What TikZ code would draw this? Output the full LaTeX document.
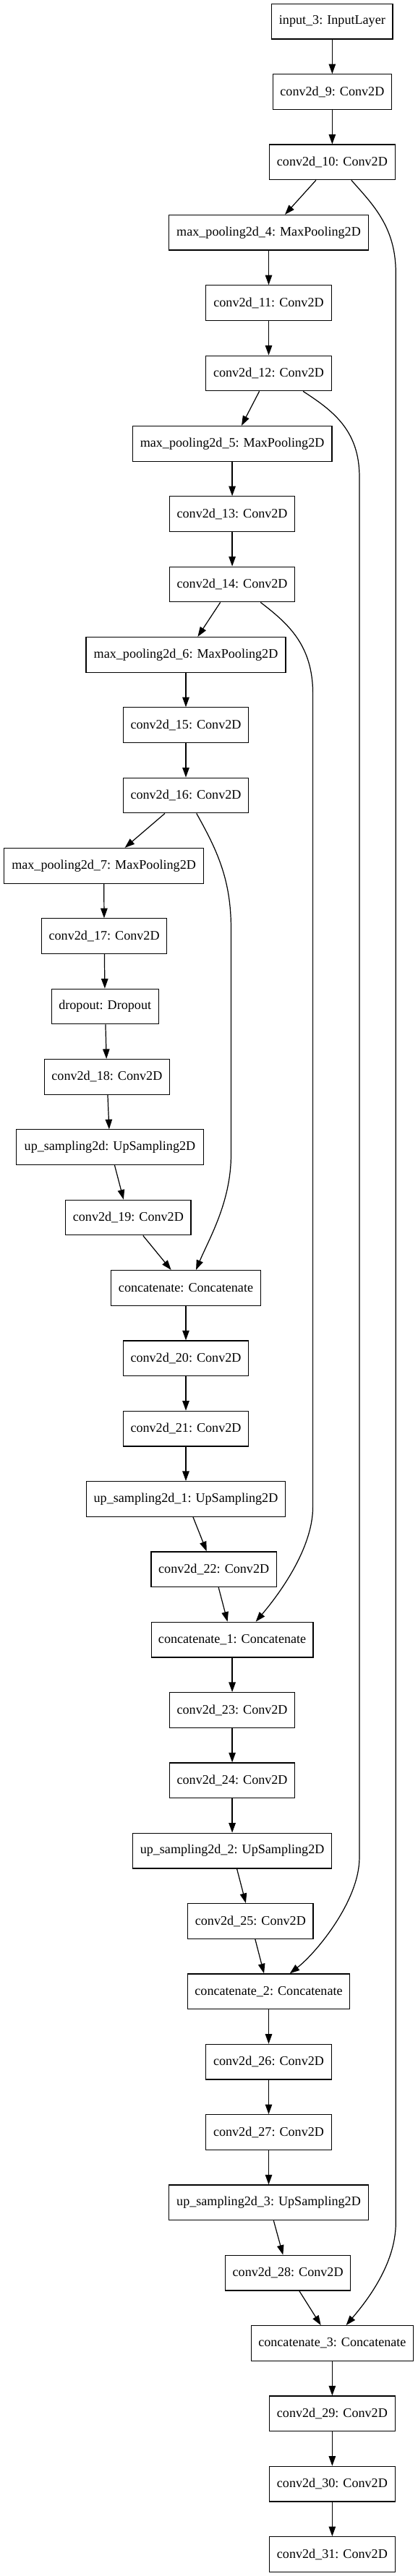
\documentclass[tikz,border=0pt]{standalone}
\usepackage{fontspec}
\setmainfont{Liberation Serif}
\usetikzlibrary{arrows.meta}
\begin{document}
\begin{tikzpicture}[x=1pt,y=-1pt,
  lay/.style={draw=black, line width=0.9pt, minimum height=36pt, inner sep=0pt,
    font=\fontsize{13.4}{16}\selectfont},
  cw/.style={lay, minimum width=128.3pt},
  mpw/.style={lay, minimum width=204.1pt},
  upw/.style={lay, minimum width=203.8pt},
  catw/.style={lay, minimum width=165.5pt},
  edge/.style={draw=black, line width=0.9pt, -{Triangle[length=10pt,width=7pt]}}]
\useasboundingbox (0,0) rectangle (426.8,2636.2);
\node[lay, minimum width=123.6pt] (in3) at (339.8,22) {input\_3: InputLayer};
\node[lay, minimum width=121.5pt] (c9) at (339.8,94) {conv2d\_9: Conv2D};
\node[cw] (c10) at (339.8,166) {conv2d\_10: Conv2D};
\node[mpw] (mp4) at (274.8,238) {max\_pooling2d\_4: MaxPooling2D};
\node[cw] (c11) at (274.8,310) {conv2d\_11: Conv2D};
\node[cw] (c12) at (274.8,382) {conv2d\_12: Conv2D};
\node[mpw] (mp5) at (237.5,454) {max\_pooling2d\_5: MaxPooling2D};
\node[cw] (c13) at (237.5,526) {conv2d\_13: Conv2D};
\node[cw] (c14) at (237.5,598) {conv2d\_14: Conv2D};
\node[mpw] (mp6) at (190.1,670) {max\_pooling2d\_6: MaxPooling2D};
\node[cw] (c15) at (190.1,742) {conv2d\_15: Conv2D};
\node[cw] (c16) at (190.1,814) {conv2d\_16: Conv2D};
\node[mpw] (mp7) at (106.2,886) {max\_pooling2d\_7: MaxPooling2D};
\node[cw] (c17) at (106.6,958) {conv2d\_17: Conv2D};
\node[lay, minimum width=109.5pt] (dr) at (107.4,1030) {dropout: Dropout};
\node[cw] (c18) at (109.4,1102) {conv2d\_18: Conv2D};
\node[lay, minimum width=191.3pt] (up0) at (112.4,1174) {up\_sampling2d: UpSampling2D};
\node[cw] (c19) at (131.2,1246) {conv2d\_19: Conv2D};
\node[lay, minimum width=152.7pt] (cat0) at (190.1,1318) {concatenate: Concatenate};
\node[cw] (c20) at (190.1,1390) {conv2d\_20: Conv2D};
\node[cw] (c21) at (190.1,1462) {conv2d\_21: Conv2D};
\node[upw] (up1) at (190.1,1534) {up\_sampling2d\_1: UpSampling2D};
\node[cw] (c22) at (218.7,1606) {conv2d\_22: Conv2D};
\node[catw] (cat1) at (237.5,1678) {concatenate\_1: Concatenate};
\node[cw] (c23) at (237.5,1750) {conv2d\_23: Conv2D};
\node[cw] (c24) at (237.5,1822) {conv2d\_24: Conv2D};
\node[upw] (up2) at (237.5,1894) {up\_sampling2d\_2: UpSampling2D};
\node[cw] (c25) at (256.2,1966) {conv2d\_25: Conv2D};
\node[catw] (cat2) at (274.8,2038) {concatenate\_2: Concatenate};
\node[cw] (c26) at (274.8,2110) {conv2d\_26: Conv2D};
\node[cw] (c27) at (274.8,2182) {conv2d\_27: Conv2D};
\node[upw] (up3) at (274.8,2254) {up\_sampling2d\_3: UpSampling2D};
\node[cw] (c28) at (294.5,2326) {conv2d\_28: Conv2D};
\node[catw] (cat3) at (339.8,2398) {concatenate\_3: Concatenate};
\node[cw] (c29) at (339.8,2470) {conv2d\_29: Conv2D};
\node[cw] (c30) at (339.8,2542) {conv2d\_30: Conv2D};
\node[cw] (c31) at (339.8,2614) {conv2d\_31: Conv2D};
\foreach \a/\b in {in3/c9,c9/c10,c10/mp4,mp4/c11,c11/c12,c12/mp5,mp5/c13,c13/c14,
  c14/mp6,mp6/c15,c15/c16,c16/mp7,mp7/c17,c17/dr,dr/c18,c18/up0,up0/c19,c19/cat0,
  cat0/c20,c20/c21,c21/up1,up1/c22,c22/cat1,cat1/c23,c23/c24,c24/up2,up2/c25,
  c25/cat2,cat2/c26,c26/c27,c27/up3,up3/c28,c28/cat3,cat3/c29,c29/c30,c30/c31}
  \draw[edge] (\a) -- (\b);
\draw[edge] ([xshift=19.6pt]c10.south) .. controls (381,209) and (404.8,232) .. (404.8,279)
  -- (404.8,2275) .. controls (404.8,2318) and (373.2,2357) .. ([xshift=14.2pt]cat3.north);
\draw[edge] ([xshift=35.2pt]c12.south) .. controls (340,420) and (367.6,440) .. (367.6,488)
  -- (367.6,1901) .. controls (367.6,1945) and (323.7,1998.3) .. ([xshift=21.6pt]cat2.north);
\draw[edge] ([xshift=29pt]c14.south) .. controls (294.5,638) and (320,660) .. (320,710)
  -- (320,1542) .. controls (320,1585) and (285,1632) .. ([xshift=24.1pt]cat1.north);
\draw[edge] ([xshift=10.9pt]c16.south) .. controls (222,870) and (236.3,900) .. (236.3,950)
  -- (236.3,1182) .. controls (236.3,1230) and (213.8,1267.8) .. ([xshift=10.4pt]cat0.north);
\end{tikzpicture}
\end{document}
